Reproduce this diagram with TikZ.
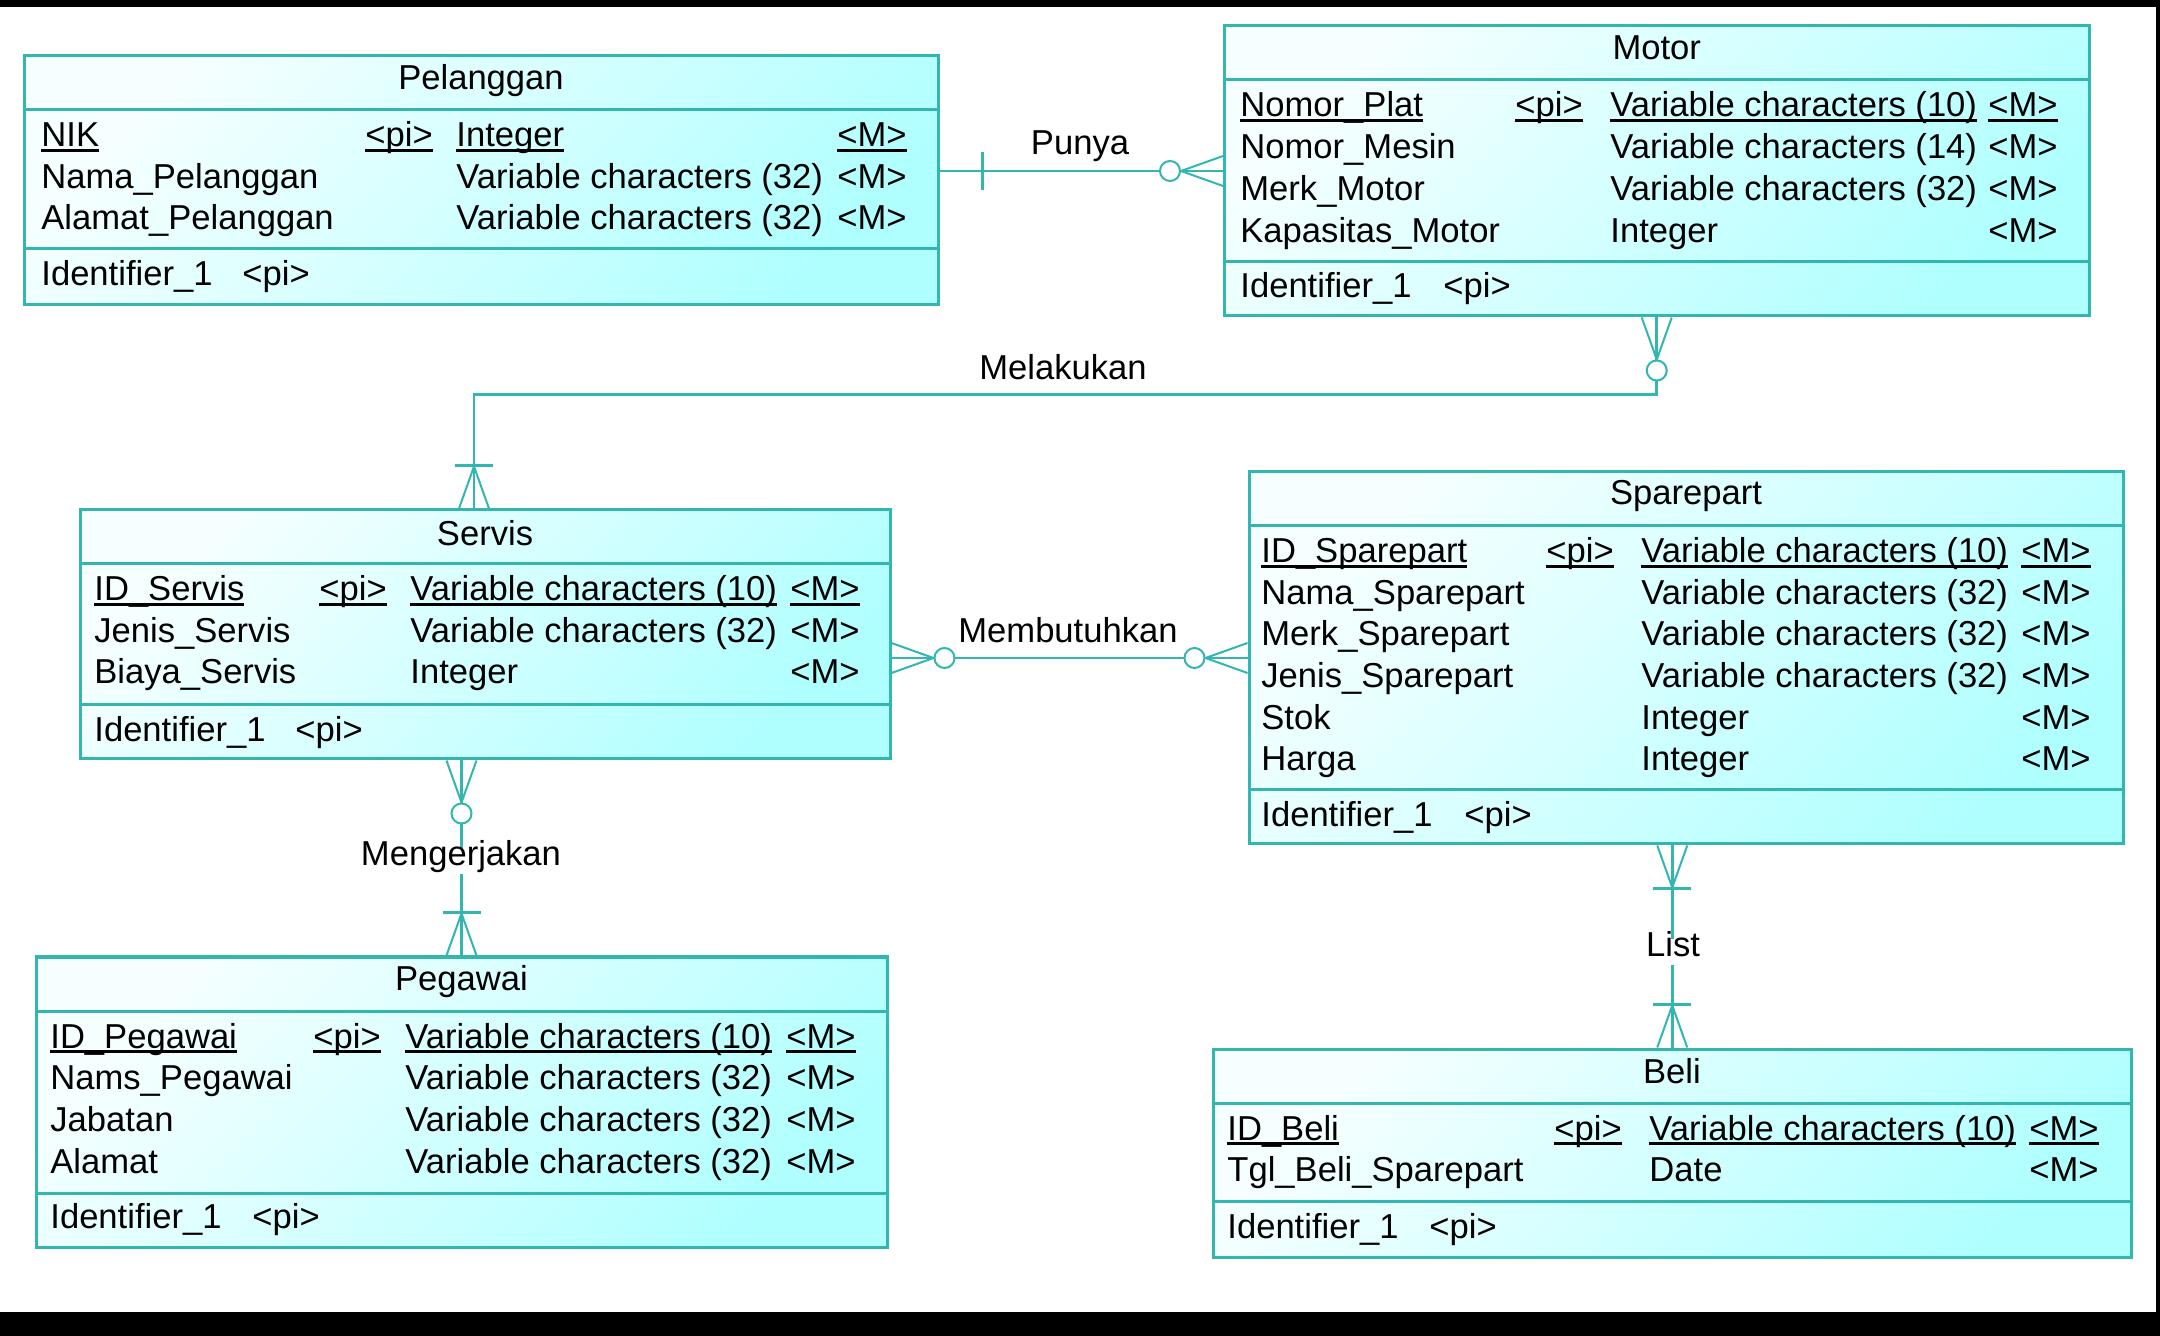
\documentclass[tikz,border=0pt]{standalone}
\usepackage{fontspec}
\setmainfont{Liberation Sans}
\usetikzlibrary{fit,calc}
\definecolor{erline}{RGB}{51,181,176}
\definecolor{erfillA}{RGB}{246,255,255}
\definecolor{erfillB}{RGB}{176,255,255}
\newsavebox\pkbox
\newcommand\pk[1]{\sbox\pkbox{#1}\rlap{\rule[-2.3pt]{\wd\pkbox}{1.1pt}}\usebox\pkbox}
\newcommand\erfont{\fontsize{17.3}{20}\selectfont}
\tikzset{
  erbox/.style={rectangle, draw=erline, line width=1.5pt, top color=erfillA, bottom color=erfillB, shading angle=45, inner sep=0pt},
  erdiv/.style={draw=erline, line width=1.5pt},
  txt/.style={inner sep=0pt, anchor=base west, font=\erfont, text=black},
  txtr/.style={txt, anchor=base east},
  ttl/.style={txt, anchor=base},
  conn/.style={draw=erline, line width=1.3pt},
  relabel/.style={font=\erfont, anchor=base, inner xsep=2pt, inner ysep=1.5pt, text height=0.75em, text depth=0.25em, text=black},
  pics/crowfoot/.style={code={\draw[erline, line width=1pt] (0,15) -- (42,0) -- (0,-15);}},
  pics/onebar/.style={code={\draw[erline, line width=1.3pt] (43,19) -- (43,-19);}},
  pics/ring/.style={code={\draw[erline, line width=1pt, fill=white] (53,0) circle[radius=5pt];}},
}
\begin{document}
\begin{tikzpicture}[x=0.5pt, y=-0.5pt]
\useasboundingbox (0,0) rectangle (2160,1336);
\fill[white] (0,0) rectangle (2160,1336);
\fill[black] (0,0) rectangle (2160,7);
\fill[black] (2156,0) rectangle (2160,1336);
\fill[black] (0,1312) rectangle (2160,1336);

% ---------- Pelanggan ----------
\node[erbox, fit={(24,56) (938,305)}] (pel) {};
\draw[erdiv] (pel.west |- 0,110) -- (pel.east |- 0,110);
\draw[erdiv] (pel.west |- 0,249) -- (pel.east |- 0,249);
\node[ttl] (pel-t) at (481,90) {Pelanggan};
\node[txt] (pel-a1) at (41,147) {\pk{NIK}};
\node[txt] (pel-p1) at (365,147) {\pk{<pi>}};
\node[txt] (pel-d1) at (456,147) {\pk{Integer}};
\node[txtr] (pel-m1) at (907,147) {\pk{<M>}};
\node[txt] (pel-a2) at (41,188.5) {Nama\_Pelanggan};
\node[txt] (pel-d2) at (456,188.5) {Variable characters (32)};
\node[txtr] (pel-m2) at (907,188.5) {<M>};
\node[txt] (pel-a3) at (41,230) {Alamat\_Pelanggan};
\node[txt] (pel-d3) at (456,230) {Variable characters (32)};
\node[txtr] (pel-m3) at (907,230) {<M>};
\node[txt] (pel-i) at (41,286) {Identifier\_1};
\node[txt] (pel-ip) at (242,286) {<pi>};

% ---------- Motor ----------
\node[erbox, fit={(1224.5,26) (2089,316)}] (mot) {};
\draw[erdiv] (mot.west |- 0,80) -- (mot.east |- 0,80);
\draw[erdiv] (mot.west |- 0,262) -- (mot.east |- 0,262);
\node[ttl] (mot-t) at (1656.75,60) {Motor};
\node[txt] (mot-a1) at (1240,117) {\pk{Nomor\_Plat}};
\node[txt] (mot-p1) at (1515,117) {\pk{<pi>}};
\node[txt] (mot-d1) at (1610,117) {\pk{Variable characters (10)}};
\node[txtr] (mot-m1) at (2058,117) {\pk{<M>}};
\node[txt] (mot-a2) at (1240,159) {Nomor\_Mesin};
\node[txt] (mot-d2) at (1610,159) {Variable characters (14)};
\node[txtr] (mot-m2) at (2058,159) {<M>};
\node[txt] (mot-a3) at (1240,201) {Merk\_Motor};
\node[txt] (mot-d3) at (1610,201) {Variable characters (32)};
\node[txtr] (mot-m3) at (2058,201) {<M>};
\node[txt] (mot-a4) at (1240,243) {Kapasitas\_Motor};
\node[txt] (mot-d4) at (1610,243) {Integer};
\node[txtr] (mot-m4) at (2058,243) {<M>};
\node[txt] (mot-i) at (1240,298) {Identifier\_1};
\node[txt] (mot-ip) at (1443,298) {<pi>};

% ---------- Servis ----------
\node[erbox, fit={(80,510) (890,759)}] (serv) {};
\draw[erdiv] (serv.west |- 0,564) -- (serv.east |- 0,564);
\draw[erdiv] (serv.west |- 0,705) -- (serv.east |- 0,705);
\node[ttl] (serv-t) at (485,546) {Servis};
\node[txt] (serv-a1) at (94,601) {\pk{ID\_Servis}};
\node[txt] (serv-p1) at (319,601) {\pk{<pi>}};
\node[txt] (serv-d1) at (410,601) {\pk{Variable characters (10)}};
\node[txtr] (serv-m1) at (860,601) {\pk{<M>}};
\node[txt] (serv-a2) at (94,642.5) {Jenis\_Servis};
\node[txt] (serv-d2) at (410,642.5) {Variable characters (32)};
\node[txtr] (serv-m2) at (860,642.5) {<M>};
\node[txt] (serv-a3) at (94,684) {Biaya\_Servis};
\node[txt] (serv-d3) at (410,684) {Integer};
\node[txtr] (serv-m3) at (860,684) {<M>};
\node[txt] (serv-i) at (94,742) {Identifier\_1};
\node[txt] (serv-ip) at (295,742) {<pi>};

% ---------- Sparepart ----------
\node[erbox, fit={(1249,472) (2123,844)}] (spare) {};
\draw[erdiv] (spare.west |- 0,526) -- (spare.east |- 0,526);
\draw[erdiv] (spare.west |- 0,790) -- (spare.east |- 0,790);
\node[ttl] (spare-t) at (1686,505) {Sparepart};
\node[txt] (spare-a1) at (1261,563) {\pk{ID\_Sparepart}};
\node[txt] (spare-p1) at (1546,563) {\pk{<pi>}};
\node[txt] (spare-d1) at (1641,563) {\pk{Variable characters (10)}};
\node[txtr] (spare-m1) at (2091,563) {\pk{<M>}};
\node[txt] (spare-a2) at (1261,604.5) {Nama\_Sparepart};
\node[txt] (spare-d2) at (1641,604.5) {Variable characters (32)};
\node[txtr] (spare-m2) at (2091,604.5) {<M>};
\node[txt] (spare-a3) at (1261,646) {Merk\_Sparepart};
\node[txt] (spare-d3) at (1641,646) {Variable characters (32)};
\node[txtr] (spare-m3) at (2091,646) {<M>};
\node[txt] (spare-a4) at (1261,688) {Jenis\_Sparepart};
\node[txt] (spare-d4) at (1641,688) {Variable characters (32)};
\node[txtr] (spare-m4) at (2091,688) {<M>};
\node[txt] (spare-a5) at (1261,729.5) {Stok};
\node[txt] (spare-d5) at (1641,729.5) {Integer};
\node[txtr] (spare-m5) at (2091,729.5) {<M>};
\node[txt] (spare-a6) at (1261,771) {Harga};
\node[txt] (spare-d6) at (1641,771) {Integer};
\node[txtr] (spare-m6) at (2091,771) {<M>};
\node[txt] (spare-i) at (1261,827) {Identifier\_1};
\node[txt] (spare-ip) at (1464,827) {<pi>};

% ---------- Pegawai ----------
\node[erbox, fit={(36,957) (887,1247)}] (peg) {};
\draw[erdiv] (peg.west |- 0,1011) -- (peg.east |- 0,1011);
\draw[erdiv] (peg.west |- 0,1193) -- (peg.east |- 0,1193);
\node[ttl] (peg-t) at (461.5,991) {Pegawai};
\node[txt] (peg-a1) at (50,1048) {\pk{ID\_Pegawai}};
\node[txt] (peg-p1) at (313,1048) {\pk{<pi>}};
\node[txt] (peg-d1) at (405,1048) {\pk{Variable characters (10)}};
\node[txtr] (peg-m1) at (856,1048) {\pk{<M>}};
\node[txt] (peg-a2) at (50,1089.5) {Nams\_Pegawai};
\node[txt] (peg-d2) at (405,1089.5) {Variable characters (32)};
\node[txtr] (peg-m2) at (856,1089.5) {<M>};
\node[txt] (peg-a3) at (50,1131) {Jabatan};
\node[txt] (peg-d3) at (405,1131) {Variable characters (32)};
\node[txtr] (peg-m3) at (856,1131) {<M>};
\node[txt] (peg-a4) at (50,1173) {Alamat};
\node[txt] (peg-d4) at (405,1173) {Variable characters (32)};
\node[txtr] (peg-m4) at (856,1173) {<M>};
\node[txt] (peg-i) at (50,1228) {Identifier\_1};
\node[txt] (peg-ip) at (252,1228) {<pi>};

% ---------- Beli ----------
\node[erbox, fit={(1213.5,1049) (2131,1257)}] (beli) {};
\draw[erdiv] (beli.west |- 0,1103) -- (beli.east |- 0,1103);
\draw[erdiv] (beli.west |- 0,1201) -- (beli.east |- 0,1201);
\node[ttl] (beli-t) at (1672,1083) {Beli};
\node[txt] (beli-a1) at (1227,1140) {\pk{ID\_Beli}};
\node[txt] (beli-p1) at (1554,1140) {\pk{<pi>}};
\node[txt] (beli-d1) at (1649,1140) {\pk{Variable characters (10)}};
\node[txtr] (beli-m1) at (2099,1140) {\pk{<M>}};
\node[txt] (beli-a2) at (1227,1181.5) {Tgl\_Beli\_Sparepart};
\node[txt] (beli-d2) at (1649,1181.5) {Date};
\node[txtr] (beli-m2) at (2099,1181.5) {<M>};
\node[txt] (beli-i) at (1227,1238) {Identifier\_1};
\node[txt] (beli-ip) at (1429,1238) {<pi>};

% ---------- Relationships ----------
% Punya
\draw[conn] (pel.east |- mot.west) -- (mot.west);
\path (pel.east |- mot.west) pic{onebar};
\path (mot.west) pic[rotate=180]{crowfoot} pic[rotate=180]{ring};
\node[relabel] (lbl-punya) at (1080,155) {Punya};

% Melakukan
\coordinate (melk) at ([xshift=-5.5pt]serv.north);
\draw[conn] (mot.south) -- ++(0,77) -| (melk);
\path (mot.south) pic[rotate=-90]{crowfoot} pic[rotate=-90]{ring};
\path (melk) pic[rotate=90]{crowfoot} pic[rotate=90]{onebar};
\node[relabel] (lbl-mel) at (1063,380) {Melakukan};

% Membutuhkan
\draw[conn] (serv.east |- spare.west) -- (spare.west);
\path (serv.east |- spare.west) pic{crowfoot} pic{ring};
\path (spare.west) pic[rotate=180]{crowfoot} pic[rotate=180]{ring};
\node[relabel] (lbl-memb) at (1068,643) {Membutuhkan};

% Mengerjakan
\draw[conn] (serv.south -| peg.north) -- (peg.north);
\path (serv.south -| peg.north) pic[rotate=-90]{crowfoot} pic[rotate=-90]{ring};
\path (peg.north) pic[rotate=90]{crowfoot} pic[rotate=90]{onebar};
\node[relabel, fill=white] (lbl-meng) at (461,866) {Mengerjakan};

% List
\draw[conn] (spare.south -| beli.north) -- (beli.north);
\path (spare.south -| beli.north) pic[rotate=-90]{crowfoot} pic[rotate=-90]{onebar};
\path (beli.north) pic[rotate=90]{crowfoot} pic[rotate=90]{onebar};
\node[relabel, fill=white] (lbl-list) at (1673,957) {List};
\end{tikzpicture}
\end{document}
